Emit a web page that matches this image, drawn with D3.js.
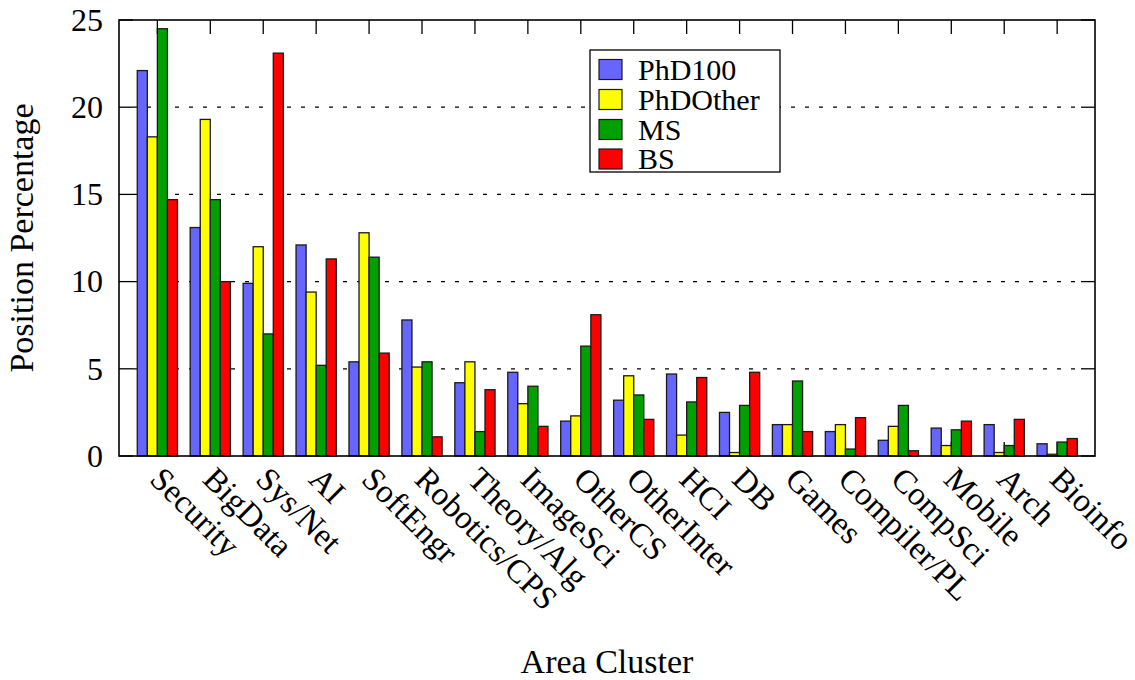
<!DOCTYPE html>
<html>
<head>
<meta charset="utf-8">
<script src="https://cdn.jsdelivr.net/npm/d3@7"></script>
<style>
  html, body { margin: 0; padding: 0; background: #fff; }
  svg { display: block; }
</style>
</head>
<body>
<svg id="chart" width="1135" height="680" font-family="'Liberation Serif', 'DejaVu Serif', 'Times New Roman', Times, serif"></svg>
<script>
const categories = ["Security", "BigData", "Sys/Net", "AI", "SoftEngr", "Robotics/CPS", "Theory/Alg", "ImageSci", "OtherCS", "OtherInter", "HCI", "DB", "Games", "Compiler/PL", "CompSci", "Mobile", "Arch", "Bioinfo"];
const seriesNames = ["PhD100", "PhDOther", "MS", "BS"];
const phd100   = [22.1, 13.1, 9.9, 12.1, 5.4, 7.8, 4.2, 4.8, 2.0, 3.2, 4.7, 2.5, 1.8, 1.4, 0.9, 1.6, 1.8, 0.7];
const phdOther = [18.3, 19.3, 12.0, 9.4, 12.8, 5.1, 5.4, 3.0, 2.3, 4.6, 1.2, 0.2, 1.8, 1.8, 1.7, 0.6, 0.2, 0.1];
const ms       = [24.5, 14.7, 7.0, 5.2, 11.4, 5.4, 1.4, 4.0, 6.3, 3.5, 3.1, 2.9, 4.3, 0.4, 2.9, 1.5, 0.6, 0.8];
const bs       = [14.7, 10.0, 23.1, 11.3, 5.9, 1.1, 3.8, 1.7, 8.1, 2.1, 4.5, 4.8, 1.4, 2.2, 0.3, 2.0, 2.1, 1.0];
const yTicks = [0, 5, 10, 15, 20, 25];
const gridTicks = [5, 10, 15, 20];
const colors = ["#6666ff", "#ffff00", "#00a000", "#ff0000"];
const seriesValues = [phd100, phdOther, ms, bs];

const svg = d3.select("#chart");
const L = 119, R = 1095, T = 20, B = 456;
const x = d3.scaleLinear().domain([-0.725, 17.715]).range([L, R]);
const y = d3.scaleLinear().domain([0, 25]).range([B, T]);
const bw = 0.19;
const tickLen = 14;
const fontSize = 32;

// gridlines
svg.append("g").selectAll("line").data(gridTicks).join("line")
  .attr("x1", L + tickLen).attr("x2", R - tickLen)
  .attr("y1", d => y(d)).attr("y2", d => y(d))
  .attr("stroke", "#000").attr("stroke-width", 1.3)
  .attr("stroke-dasharray", "4,10");

// bottom ticks (under bars)
svg.append("g").selectAll("line").data(categories).join("line")
  .attr("x1", (d, i) => x(i)).attr("x2", (d, i) => x(i))
  .attr("y1", B).attr("y2", B - tickLen)
  .attr("stroke", "#000").attr("stroke-width", 1.3);

// bars
const gBars = svg.append("g");
seriesValues.forEach((vals, j) => {
  gBars.append("g").selectAll("rect").data(vals).join("rect")
    .attr("x", (d, i) => x(i + (j - 2) * bw))
    .attr("width", x(bw) - x(0))
    .attr("y", d => y(d))
    .attr("height", d => y(0) - y(d))
    .attr("fill", colors[j])
    .attr("stroke", "#1a1a1a").attr("stroke-width", 1.3);
});

// top ticks
svg.append("g").selectAll("line").data(categories).join("line")
  .attr("x1", (d, i) => x(i)).attr("x2", (d, i) => x(i))
  .attr("y1", T).attr("y2", T + tickLen)
  .attr("stroke", "#000").attr("stroke-width", 1.3);

// y ticks left & right
const yt = svg.append("g");
yt.selectAll("line.l").data(yTicks).join("line").attr("class", "l")
  .attr("x1", L).attr("x2", L + tickLen).attr("y1", d => y(d)).attr("y2", d => y(d))
  .attr("stroke", "#000").attr("stroke-width", 1.3);
yt.selectAll("line.r").data(yTicks).join("line").attr("class", "r")
  .attr("x1", R - tickLen).attr("x2", R).attr("y1", d => y(d)).attr("y2", d => y(d))
  .attr("stroke", "#000").attr("stroke-width", 1.3);
yt.selectAll("text").data(yTicks).join("text")
  .attr("x", L - 16).attr("y", d => y(d)).attr("dy", "0.34em")
  .attr("text-anchor", "end").attr("font-size", fontSize)
  .text(d => d);

// frame
svg.append("rect").attr("x", L).attr("y", T).attr("width", R - L).attr("height", B - T)
  .attr("fill", "none").attr("stroke", "#000").attr("stroke-width", 1.6);

// x tick labels
svg.append("g").selectAll("text").data(categories).join("text")
  .attr("transform", (d, i) => `translate(${x(i) - 9},${B + 25}) rotate(45)`)
  .attr("text-anchor", "start").attr("font-size", 33)
  .text(d => d);

// axis titles
svg.append("text").attr("transform", `translate(33,${(T + B) / 2}) rotate(-90)`)
  .attr("text-anchor", "middle").attr("font-size", 34).text("Position Percentage");
svg.append("text").attr("x", 607).attr("y", 673)
  .attr("text-anchor", "middle").attr("font-size", 34).text("Area Cluster");

// legend
const lg = svg.append("g");
lg.append("rect").attr("x", 590).attr("y", 50).attr("width", 190).attr("height", 122)
  .attr("fill", "#fff").attr("stroke", "#000").attr("stroke-width", 1.3);
const rowBase = [79.5, 109.5, 139.5, 169];
seriesNames.forEach((name, j) => {
  lg.append("rect").attr("x", 599).attr("y", rowBase[j] - 20).attr("width", 23).attr("height", 20)
    .attr("fill", colors[j]).attr("stroke", "#1a1a1a").attr("stroke-width", 1.2);
  lg.append("text").attr("x", 638).attr("y", rowBase[j]).attr("font-size", 30).text(name);
});
</script>
</body>
</html>
